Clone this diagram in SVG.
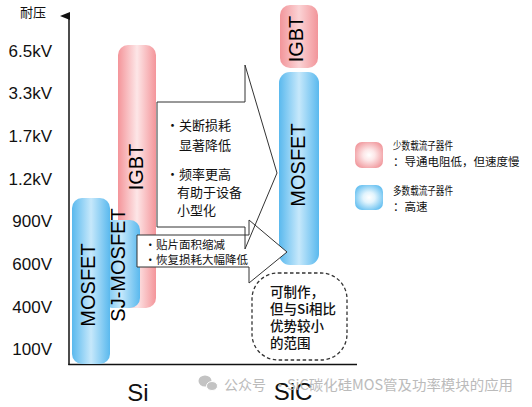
<svg xmlns="http://www.w3.org/2000/svg" width="532" height="407" viewBox="0 0 532 407">
<defs>
  <linearGradient id="gBlue" x1="0" y1="0" x2="1" y2="0">
    <stop offset="0" stop-color="#5ab9ee"/>
    <stop offset="0.5" stop-color="#c6e8fb"/>
    <stop offset="1" stop-color="#5ab9ee"/>
  </linearGradient>
  <linearGradient id="gPink" x1="0" y1="0" x2="1" y2="0">
    <stop offset="0" stop-color="#f4959a"/>
    <stop offset="0.5" stop-color="#fde6e7"/>
    <stop offset="1" stop-color="#f4959a"/>
  </linearGradient>
  <linearGradient id="gPink2" x1="0" y1="0" x2="1" y2="0">
    <stop offset="0" stop-color="#f2959a"/>
    <stop offset="0.5" stop-color="#fbd3d5"/>
    <stop offset="1" stop-color="#f2959a"/>
  </linearGradient>
  <radialGradient id="rBlue" cx="0.5" cy="0.5" r="0.6">
    <stop offset="0" stop-color="#ffffff"/>
    <stop offset="0.35" stop-color="#e2f4fd"/>
    <stop offset="1" stop-color="#5fbdf0"/>
  </radialGradient>
  <radialGradient id="rPink" cx="0.5" cy="0.5" r="0.6">
    <stop offset="0" stop-color="#ffffff"/>
    <stop offset="0.35" stop-color="#fde7e8"/>
    <stop offset="1" stop-color="#f0959a"/>
  </radialGradient>
  <marker id="axHead" markerWidth="10" markerHeight="10" refX="5" refY="9" orient="auto-start-reverse" markerUnits="userSpaceOnUse" viewBox="0 0 10 10">
    <path d="M5,0 L9,10 L1,10 Z" fill="#111"/>
  </marker>
  <style>
    .lat { font-family: "Liberation Sans", Arial, sans-serif; fill: #111; }
    .tick { font-family: "Liberation Sans", Arial, sans-serif; font-size: 17px; text-anchor: end; fill: #111; }
    .bar-t { font-family: "Liberation Sans", Arial, sans-serif; font-size: 20px; text-anchor: middle; fill: #000; }
    .cjk { font-family: "Noto Sans CJK SC", "Noto Sans CJK JP", sans-serif; fill: #111; }
    .arrow { stroke: #333; stroke-width: 1; stroke-linejoin: miter; }
    .wm { font-family: "Noto Sans CJK SC", sans-serif; fill: #b4b4b4; font-size: 14px; }
  </style>
</defs>
<rect width="532" height="407" fill="#ffffff"/>

<!-- axes -->
<g id="axes" stroke="#111" stroke-width="1.5" fill="none">
  <line x1="69" y1="365" x2="69" y2="16" marker-end="url(#axHead)"/>
  <line x1="68.3" y1="364.5" x2="357" y2="364.5"/>
</g>
<g id="axis-labels">
  <text class="cjk" x="20" y="17" font-size="13">耐压</text>
  <text class="tick" x="52" y="57">6.5kV</text>
  <text class="tick" x="52" y="99">3.3kV</text>
  <text class="tick" x="52" y="142">1.7kV</text>
  <text class="tick" x="52" y="185">1.2kV</text>
  <text class="tick" x="52" y="227">900V</text>
  <text class="tick" x="52" y="270">600V</text>
  <text class="tick" x="52" y="313">400V</text>
  <text class="tick" x="52" y="355">100V</text>
  <text class="lat" x="138" y="401" font-size="24" text-anchor="middle">Si</text>
  <text class="lat" x="293" y="400" font-size="24" text-anchor="middle">SiC</text>
</g>

<!-- Si devices -->
<g id="si-igbt">
  <rect x="118" y="45" width="38" height="263" rx="10" fill="url(#gPink)"/>
</g>
<g id="si-sjmosfet">
  <rect x="102" y="220" width="38" height="88" rx="10" fill="url(#gBlue)"/>
</g>
<g id="si-mosfet">
  <rect x="72" y="198" width="38" height="166" rx="10" fill="url(#gBlue)"/>
</g>

<!-- SiC devices -->
<g id="sic-igbt">
  <rect x="280" y="5" width="38" height="63" rx="10" fill="url(#gPink2)"/>
  <text class="bar-t" x="303" y="39" font-size="18" transform="rotate(-90 303 39)">IGBT</text>
</g>
<g id="sic-mosfet">
  <rect x="279" y="72" width="40" height="193" rx="11" fill="url(#gBlue)"/>
  <text class="bar-t" x="305" y="165" transform="rotate(-90 305 165)">MOSFET</text>
</g>

<!-- connectors (arrows) -->
<g id="connectors">
  <polygon id="arrow-sj" class="arrow" fill="#ffffff" points="137,235 249,235 249,220 287,252 249,283 249,267 137,267"/>
  <polygon id="arrow-igbt" class="arrow" fill="none" points="157,102 245,102 245,65 277,173 245,249 245,227 157,227 157,102"/>
</g>

<!-- labels of Si bars (above arrows) -->
<g id="si-labels">
  <text class="bar-t" x="95" y="285" transform="rotate(-90 95 285)">MOSFET</text>
  <text class="bar-t" x="125" y="265" transform="rotate(-90 125 265)">SJ-MOSFET</text>
  <text class="bar-t" x="143" y="167" transform="rotate(-90 143 167)">IGBT</text>
</g>

<!-- arrow texts -->
<g id="igbt-arrow-text" class="cjk" font-size="13">
  <text x="166" y="129.5">・关断损耗</text>
  <text x="179" y="149.5">显著降低</text>
  <text x="166" y="178.5">・频率更高</text>
  <text x="177" y="196.5">有助于设备</text>
  <text x="177" y="214.5">小型化</text>
</g>
<g id="sj-arrow-text" class="cjk" font-size="11.5">
  <text x="144.5" y="249">・贴片面积缩减</text>
  <text x="144.5" y="264">・恢复损耗大幅降低</text>
</g>

<!-- dashed note -->
<g id="note">
  <rect x="252" y="273" width="95" height="87" rx="26" ry="26" fill="none" stroke="#333" stroke-width="1.3" stroke-dasharray="3.5,2.5"/>
  <g class="cjk" font-size="13.5" font-weight="500">
    <text x="270" y="297">可制作，</text>
    <text x="270" y="314">但与Si相比</text>
    <text x="270" y="331">优势较小</text>
    <text x="270" y="348">的范围</text>
  </g>
</g>

<!-- legend -->
<g id="legend-minority">
  <rect x="355" y="142" width="28" height="26" rx="7" fill="url(#rPink)"/>
  <text class="cjk" x="393" y="149.5" font-size="11" textLength="60" lengthAdjust="spacingAndGlyphs">少数载流子器件</text>
  <text class="cjk" x="393" y="166" font-size="11.5">：导通电阻低，但速度慢</text>
</g>
<g id="legend-majority">
  <rect x="355" y="185" width="28" height="25" rx="7" fill="url(#rBlue)"/>
  <text class="cjk" x="393" y="194.5" font-size="11" textLength="60" lengthAdjust="spacingAndGlyphs">多数载流子器件</text>
  <text class="cjk" x="393" y="211" font-size="11.5">：高速</text>
</g>

<!-- watermark -->
<g id="watermark" opacity="0.9">
  <ellipse cx="205" cy="381" rx="6.5" ry="5.5" fill="#bdbdbd"/>
  <ellipse cx="212" cy="386" rx="5.5" ry="4.5" fill="#bdbdbd" stroke="#fff" stroke-width="1"/>
  <text class="wm" x="224" y="390">公众号</text>
  <text class="wm" x="273" y="390">·</text>
  <text class="wm" x="287" y="390" textLength="226" lengthAdjust="spacingAndGlyphs">SiC碳化硅MOS管及功率模块的应用</text>
</g>
</svg>
